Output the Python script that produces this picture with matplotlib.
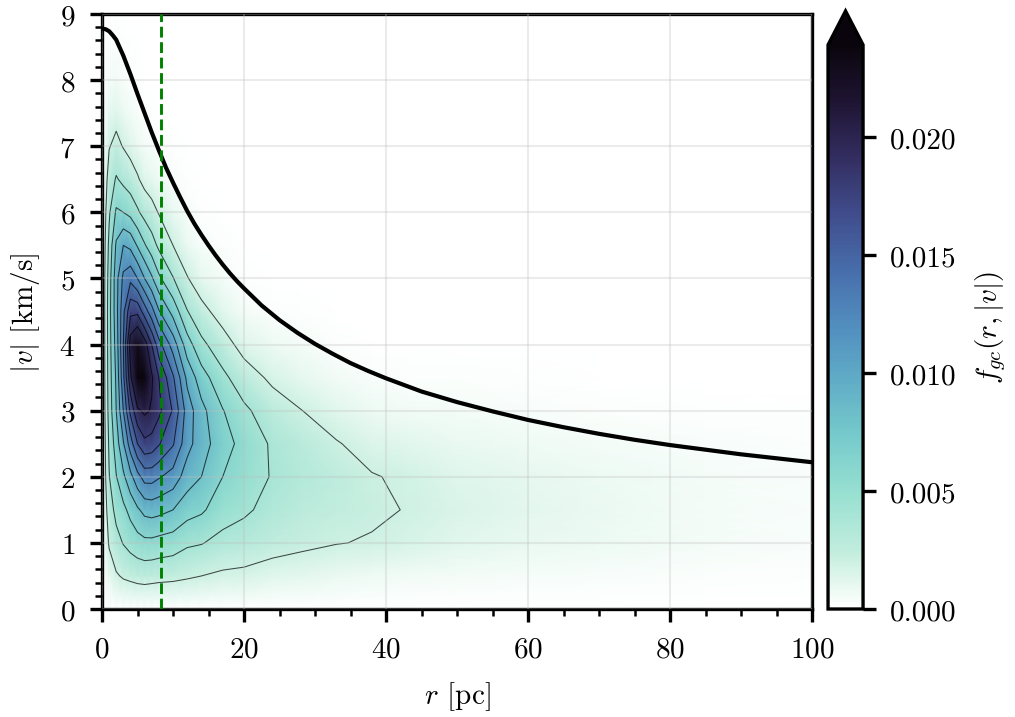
import numpy as np
import matplotlib
matplotlib.use('Agg')
import matplotlib.pyplot as plt
from matplotlib.colors import LinearSegmentedColormap
from matplotlib.ticker import MultipleLocator, FormatStrFormatter

plt.rcParams.update({
    'font.family': 'serif',
    'font.serif': ['cmr10'],
    'mathtext.fontset': 'cm',
    'axes.formatter.use_mathtext': True,
    'font.size': 7,
    'axes.linewidth': 0.8,
})

# grid nodes of the density map
r_nodes = [0, 1, 2, 3, 4, 5, 6, 7, 8, 10, 12, 14, 17, 20, 24, 28, 33, 38, 43, 50, 60, 70, 85, 100]
v_nodes = [0, 0.5, 1, 1.5, 2, 2.5, 3, 3.5, 4, 4.5, 5, 5.5, 6, 6.5, 7, 7.5, 8, 9]

# f_gc(r,|v|) in units of 1e-3, one row per v node
f_gc = [
    [0]*24,
    [0, 1.0, 1.8, 2.2, 2.4, 2.6, 2.7, 2.6, 2.5, 2.4, 2.2, 2.0, 1.7, 1.6, 1.3, 1.2, 0.9, 0.7, 0.6, 0.5, 0.4, 0.3, 0.2, 0.13],
    [0, 2.2, 3.3, 4.1, 4.7, 5.2, 5.5, 5.5, 5.3, 5.0, 4.3, 4.1, 3.4, 3.1, 2.6, 2.3, 2.05, 1.9, 1.6, 1.3, 1.0, 0.75, 0.5, 0.32],
    [0, 3.0, 4.6, 5.5, 6.6, 7.7, 8.6, 8.8, 8.6, 8.0, 6.8, 6.3, 4.9, 4.3, 3.4, 2.85, 2.5, 2.2, 1.95, 1.55, 1.15, 0.85, 0.55, 0.35],
    [0, 3.9, 5.9, 7.6, 9.4, 11.3, 12.8, 12.8, 12.2, 11.2, 9.0, 8.0, 6.0, 5.1, 3.85, 3.2, 2.62, 2.08, 1.8, 1.4, 1.05, 0.78, 0.5, 0.32],
    [0, 4.3, 7.0, 9.8, 13.0, 16.0, 17.5, 17.2, 16.2, 14.2, 10.7, 8.9, 6.8, 5.35, 3.73, 2.9, 2.1, 1.48, 1.25, 0.95, 0.7, 0.5, 0.32, 0.2],
    [0, 4.8, 8.0, 12.0, 16.5, 19.6, 20.4, 19.8, 18.5, 15.8, 11.1, 8.6, 6.1, 4.4, 2.83, 2.04, 1.27, 0.78, 0.65, 0.5, 0.35, 0.25, 0.15, 0.1],
    [0, 5.0, 8.3, 13.5, 19.5, 24.0, 24.0, 20.3, 18.0, 14.3, 9.5, 6.9, 4.5, 2.8, 1.67, 1.12, 0.59, 0.3, 0.25, 0.2, 0.12, 0.08, 0.05, 0.03],
    [0, 5.1, 8.8, 14.0, 21.0, 23.0, 21.0, 18.0, 14.8, 11.1, 6.9, 4.5, 2.7, 1.4, 0.77, 0.48, 0.2, 0.08, 0.07, 0.05, 0.03, 0.02, 0.01, 0],
    [0, 5.2, 9.2, 13.5, 17.5, 17.5, 15.0, 12.8, 10.2, 7.3, 4.1, 2.5, 1.3, 0.5, 0.28, 0.15, 0.05, 0, 0, 0, 0, 0, 0, 0],
    [0, 5.0, 9.2, 12.5, 13.5, 12.0, 10.0, 8.3, 6.4, 4.1, 2.1, 1.1, 0.5, 0.15, 0.08, 0.04, 0, 0, 0, 0, 0, 0, 0, 0],
    [0, 4.5, 8.3, 10.0, 9.5, 7.8, 6.2, 4.9, 3.6, 2.0, 0.9, 0.4, 0.2, 0.05, 0, 0, 0, 0, 0, 0, 0, 0, 0, 0],
    [0, 3.7, 6.3, 6.0, 5.4, 4.3, 3.3, 2.6, 1.9, 1.0, 0.4, 0.1, 0.05, 0, 0, 0, 0, 0, 0, 0, 0, 0, 0, 0],
    [0, 2.8, 4.2, 3.5, 2.9, 2.2, 1.4, 1.1, 0.7, 0.3, 0.1, 0, 0, 0, 0, 0, 0, 0, 0, 0, 0, 0, 0, 0],
    [0, 1.9, 2.5, 1.9, 1.4, 0.9, 0.55, 0.4, 0.25, 0.1, 0, 0, 0, 0, 0, 0, 0, 0, 0, 0, 0, 0, 0, 0],
    [0, 1.1, 1.4, 0.9, 0.6, 0.35, 0.2, 0.1, 0.05, 0, 0, 0, 0, 0, 0, 0, 0, 0, 0, 0, 0, 0, 0, 0],
    [0, 0.5, 0.6, 0.35, 0.2, 0.1, 0.05, 0, 0, 0, 0, 0, 0, 0, 0, 0, 0, 0, 0, 0, 0, 0, 0, 0],
    [0]*24,
]

# escape velocity curve
r_esc = [0, 0.5, 1, 1.5, 2, 3, 4, 5, 6, 7, 8, 9, 10, 11, 12, 13, 14, 15, 16, 17, 18, 19, 20,
         22.5, 25, 27.5, 30, 32.5, 35, 37.5, 40, 45, 50, 55, 60, 65, 70, 75, 80, 85, 90, 95, 100]
v_esc = [8.78, 8.77, 8.74, 8.68, 8.61, 8.37, 8.09, 7.79, 7.50, 7.21, 6.94, 6.68, 6.45, 6.23, 6.02,
         5.83, 5.66, 5.50, 5.35, 5.21, 5.08, 4.96, 4.85, 4.59, 4.37, 4.18, 4.01, 3.86, 3.72, 3.60,
         3.49, 3.29, 3.13, 2.99, 2.86, 2.75, 2.65, 2.56, 2.48, 2.41, 2.34, 2.28, 2.22]

r_half = 8.3
levels = [0.002, 0.004, 0.006, 0.008, 0.010, 0.012, 0.014, 0.016, 0.018, 0.020]
cbar_ticks = [0.0, 0.005, 0.010, 0.015, 0.020]

cmap = LinearSegmentedColormap.from_list('gc', [
    (0.00, (1.00, 1.00, 1.00)),
    (0.04, (0.91, 0.975, 0.945)),
    (0.10, (0.76, 0.93, 0.87)),
    (0.20, (0.60, 0.88, 0.82)),
    (0.30, (0.47, 0.80, 0.80)),
    (0.40, (0.38, 0.68, 0.78)),
    (0.50, (0.32, 0.56, 0.75)),
    (0.60, (0.28, 0.43, 0.67)),
    (0.70, (0.25, 0.30, 0.55)),
    (0.80, (0.20, 0.18, 0.38)),
    (0.90, (0.12, 0.08, 0.20)),
    (1.00, (0.04, 0.02, 0.05)),
])

R, V = np.meshgrid(r_nodes, v_nodes)
F = np.array(f_gc) * 1e-3

fig = plt.figure(figsize=(10.15 / 3, 7.18 / 3), dpi=300)
ax = fig.add_axes([0.1005, 0.1504, 0.6995, 0.8287])
cax = fig.add_axes([0.8158, 0.1504, 0.0345, 0.8329])

mesh = ax.pcolormesh(R, V, F, shading='gouraud', cmap=cmap, vmin=0, vmax=0.0239)
ax.contour(R, V, F, levels=levels, colors='k', linewidths=0.25, alpha=0.7)
ax.plot(r_esc, v_esc, color='k', lw=1.0, zorder=4)
ax.axvline(r_half, color='green', ls='--', lw=0.7, zorder=4)

ax.set_xlim(0, 100)
ax.set_ylim(0, 9)
ax.set_xticks([0, 20, 40, 60, 80, 100])
ax.set_yticks(range(10))
ax.xaxis.set_minor_locator(MultipleLocator(5))
ax.yaxis.set_minor_locator(MultipleLocator(0.2))
ax.tick_params(which='major', direction='out', length=3, width=0.8)
ax.tick_params(which='minor', direction='out', length=1.6, width=0.6)
ax.set_axisbelow(False)
ax.grid(True, which='major', color='0.75', alpha=0.3, lw=0.5)
ax.set_xlabel(r'$r$ [pc]')
ax.set_ylabel(r'$|v|$ [km/s]')

cb = fig.colorbar(mesh, cax=cax, extend='max', extendfrac=0.06)
cb.set_ticks(cbar_ticks)
cb.ax.yaxis.set_major_formatter(FormatStrFormatter('%.3f'))
cb.minorticks_off()
cb.outline.set_linewidth(0.8)
cax.tick_params(length=3, width=0.8)
cb.set_label(r'$f_{gc}(r,|v|)$')

fig.savefig('out.png', dpi=300)
